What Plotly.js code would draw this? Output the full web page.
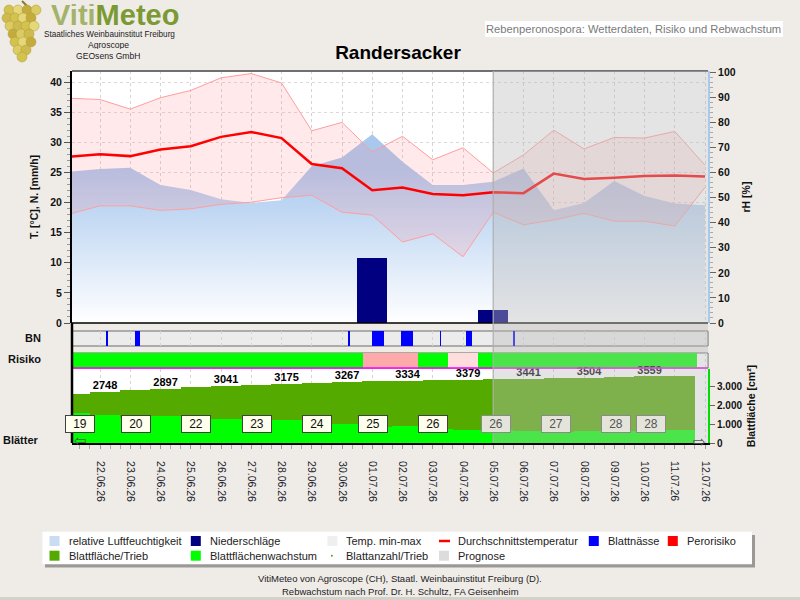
<!DOCTYPE html>
<html><head><meta charset="utf-8">
<script src="https://cdn.plot.ly/plotly-3.0.1.min.js"></script>
<style>html,body{margin:0;padding:0;background:#efece8;}#chart{width:800px;height:600px;}</style>
</head><body><div id="chart"></div>
<script>
// ---------------- DATA ----------------
const days = ['2026-06-21','2026-06-22','2026-06-23','2026-06-24','2026-06-25','2026-06-26','2026-06-27','2026-06-28','2026-06-29','2026-06-30','2026-07-01','2026-07-02','2026-07-03','2026-07-04','2026-07-05','2026-07-06','2026-07-07','2026-07-08','2026-07-09','2026-07-10','2026-07-11','2026-07-12'];
const tempMean = [27.6,28.0,27.7,28.8,29.35,30.9,31.7,30.7,26.4,25.7,22.05,22.5,21.4,21.2,21.7,21.55,24.8,23.9,24.1,24.4,24.5,24.3];
const tempMax  = [37.3,37.1,35.5,37.4,38.6,40.7,41.4,39.85,31.9,33.3,28.4,31.0,27.1,29.1,24.9,27.9,32.0,28.9,30.8,30.7,31.8,26.2];
const tempMin  = [18.1,19.45,19.45,18.7,18.95,19.7,20.05,20.8,21.2,18.4,17.9,13.45,14.8,11.0,18.4,16.3,17.1,18.2,16.9,16.9,16.1,22.5];
const relHum   = [60.3,61.4,61.9,55.0,53.0,49.4,47.9,49.0,62.5,66.0,75.3,64.3,55.0,55.0,56.3,61.6,45.0,47.9,56.6,50.6,47.7,47.0];
const precipDays = ['2026-07-01','2026-07-05'];
const precipMm   = [10.8, 2.2];
const bnStart = ['2026-06-22 04:30','2026-06-23 03:45','2026-06-30 04:30','2026-07-01 00:00','2026-07-01 22:45','2026-07-03 05:45','2026-07-04 02:30','2026-07-05 16:00'];
const bnHours = [1.6,4,1.6,9.5,9.3,1,4.8,1.2];
const riskStart = ['2026-06-21 00:00','2026-06-30 17:00','2026-07-02 12:00','2026-07-03 12:00','2026-07-04 12:00'];
const riskEnd   = ['2026-06-30 17:00','2026-07-02 12:00','2026-07-03 12:00','2026-07-04 12:00','2026-07-11 17:30'];
const riskLevel = [0,2,0,1,0];
const leafDays = ['2026-06-21','2026-06-22','2026-06-23','2026-06-24','2026-06-25','2026-06-26','2026-06-27','2026-06-28','2026-06-29','2026-06-30','2026-07-01','2026-07-02','2026-07-03','2026-07-04','2026-07-05','2026-07-06','2026-07-07','2026-07-08','2026-07-09','2026-07-10','2026-07-11'];
const leafArea = [2620,2748,2825,2897,2970,3041,3110,3175,3225,3267,3302,3334,3358,3379,3412,3441,3473,3504,3533,3559,3585];
const leafAreaLabels = ['','2748','','2897','','3041','','3175','','3267','','3334','','3379','','3441','','3504','','3559',''];
const leafGrowth = [1589,1498,1354,1445,1354,1284,1284,1231,1001,1001,872,910,733,696,696,642,605,642,642,642,696];
const leafCountTimes = ['2026-06-21 08:00','2026-06-23 04:30','2026-06-25 04:00','2026-06-27 04:30','2026-06-29 04:00','2026-07-01 00:30','2026-07-03 00:00','2026-07-05 02:00','2026-07-07 01:30','2026-07-09 01:00','2026-07-10 05:00'];
const leafCounts = [19,20,22,23,24,25,26,26,27,28,28];
const prognoseStart = '2026-07-05 00:00';
const legendLabels = ['relative Luftfeuchtigkeit','Niederschläge','Temp. min-max','Durchschnittstemperatur','Blattnässe','Perorisiko','Blattfläche/Trieb','Blattflächenwachstum','Blattanzahl/Trieb','Prognose'];
const legendColors = ['#c9dcf2','#000080','#efefef','#ff0000','#0000ff','#ff0000','#55aa00','#00ff00','#55aa00','#dcdcdc'];
const legendSymbols = ['square','square','square','line','square','square','square','square','dot','square'];

// ---------------- LAYOUT HELPERS ----------------
const W=800,H=600,ML=72,MR=92,MT=71,MB=157;
const PW=W-ML-MR, PH=H-MT-MB;
const px = p => (p-ML)/PW;
const py = p => (H-MB-p)/PH;
const HOUR=3600000, DAY=24*HOUR;
const toMs = s => Date.parse(s.replace(' ','T')+':00Z');
const xRange = ['2026-06-21 01:47','2026-07-12 02:23'];
const riskColors = ['#00ff00','#ffdddd','#ffaaaa'];
const FONT = 'Liberation Sans, Arial, sans-serif';
const BAR_OFFSET_H = -8;

const traces = [
  {type:'scatter', mode:'lines', x:days, y:relHum, yaxis:'y', line:{width:0,color:'rgba(0,0,0,0)'},
   fill:'tozeroy', fillgradient:{type:'vertical', colorscale:[[0,'#ffffff'],[1,'#a8c8ee']], start:0, stop:62}, hoverinfo:'skip'},
  {type:'bar', x:precipDays, y:precipMm, yaxis:'y2', width:DAY, marker:{color:'#000080', line:{width:0}}, hoverinfo:'skip'},
  {type:'scatter', mode:'lines', x:days, y:tempMin, yaxis:'y2', line:{color:'#ff9e9e', width:1}, hoverinfo:'skip'},
  {type:'scatter', mode:'lines', x:days, y:tempMax, yaxis:'y2', fill:'tonexty', fillcolor:'rgba(255,140,150,0.19)', line:{color:'#ff9e9e', width:1}, hoverinfo:'skip'},
  {type:'scatter', mode:'lines', x:days, y:tempMean, yaxis:'y2', line:{color:'#ff0000', width:2.5}, hoverinfo:'skip'},
  {type:'bar', x:bnStart, y:bnStart.map(()=>1), base:0, width:bnHours.map(h=>h*HOUR), offset:0, yaxis:'y3', marker:{color:'#0000ff', line:{width:0}}, hoverinfo:'skip'},
  {type:'bar', x:riskStart, y:riskStart.map(()=>1), base:0, width:riskStart.map((s,i)=>toMs(riskEnd[i])-toMs(s)), offset:0, yaxis:'y4', marker:{color:riskLevel.map(l=>riskColors[l]), line:{width:0}}, hoverinfo:'skip'},
  {type:'bar', x:leafDays, y:leafArea, width:DAY, offset:BAR_OFFSET_H*HOUR, yaxis:'y5', marker:{color:'#55aa00', line:{width:0}}, hoverinfo:'skip'},
  {type:'bar', x:leafDays, y:leafGrowth, width:DAY, offset:BAR_OFFSET_H*HOUR, yaxis:'y5', marker:{color:'#00ff00', line:{width:0}}, hoverinfo:'skip'},
  {type:'scatter', mode:'text', x:leafDays.map(d=>d+' 0'+(BAR_OFFSET_H+12)+':00'), y:leafArea, text:leafAreaLabels, textposition:'top center', yaxis:'y5', cliponaxis:false,
   textfont:{family:FONT, size:11, color:'#000', weight:'bold'}, hoverinfo:'skip'}
];

const shapes = [
  {type:'rect', xref:'paper', yref:'y3 domain', x0:0, x1:1, y0:0, y1:1, fillcolor:'#ececec', line:{color:'#6a6a6a', width:1}, layer:'below'},
  {type:'rect', xref:'paper', yref:'y4 domain', x0:0, x1:1, y0:0, y1:1, fillcolor:'#ffffff', line:{color:'#666', width:1}, layer:'below'},
  {type:'line', xref:'paper', yref:'y4 domain', x0:0, x1:1, y0:0, y1:0, line:{color:'#ff00ff', width:1.5}, layer:'above'},
  {type:'line', xref:'paper', yref:'y domain', x0:0, x1:1, y0:1, y1:1, line:{color:'#707070', width:2}, layer:'above'},
  {type:'line', xref:'paper', yref:'y domain', x0:0, x1:1, y0:0, y1:0, line:{color:'#000', width:1.5}, layer:'above'},
  {type:'line', xref:'paper', yref:'paper', x0:0, x1:0, y0:0, y1:py(323), line:{color:'#000', width:2.5}, layer:'above'},
  {type:'rect', xref:'x', yref:'paper', x0:prognoseStart, x1:xRange[1], y0:0, y1:1, fillcolor:'rgba(187,187,187,0.4)', line:{width:0}, layer:'above'},
  {type:'line', xref:'x', yref:'paper', x0:prognoseStart, x1:prognoseStart, y0:0, y1:1, line:{color:'rgba(175,175,175,0.8)', width:1.5}, layer:'above'},
  // page decorations
  {type:'rect', xref:'paper', yref:'paper', x0:px(0), x1:px(800), y0:py(597), y1:py(600), fillcolor:'#d4d0ca', line:{width:0}},
  {type:'rect', xref:'paper', yref:'paper', x0:px(45), x1:px(755), y0:py(535), y1:py(567.5), fillcolor:'rgba(0,0,0,0.35)', line:{width:0}},
  {type:'rect', xref:'paper', yref:'paper', x0:px(42.4), x1:px(752), y0:py(531.7), y1:py(564.3), fillcolor:'#ffffff', line:{width:0}},
  {type:'rect', xref:'paper', yref:'paper', x0:px(485), x1:px(783), y0:py(21), y1:py(37), fillcolor:'#ffffff', line:{width:0}}
];

const annotations = [];
// leaf count boxes
leafCountTimes.forEach((t,i)=>{
  const prog = toMs(t) >= toMs(prognoseStart);
  annotations.push({xref:'x', yref:'y5 domain', x:t, y:0.135, text:String(leafCounts[i]), showarrow:false,
    font:{family:FONT, size:12, color: prog?'#555':'#111'}, bgcolor: prog?'#e4e4da':'#ffffee',
    bordercolor: prog?'#8a8a8a':'#404040', borderwidth:1, borderpad:1, width:26, height:14});
});
const pageText = (x,y,text,opts={}) => annotations.push(Object.assign({xref:'paper', yref:'paper', x:px(x), y:py(y), text, showarrow:false,
  xanchor:'center', yanchor:'middle', font:{family:FONT, size:11, color:'#222'}}, opts));
// strip labels
pageText(43,338,'BN',{xanchor:'right', font:{family:FONT,size:11,color:'#111',weight:'bold'}});
pageText(43,359,'Risiko',{xanchor:'right', font:{family:FONT,size:11,color:'#111',weight:'bold'}});
pageText(41,440,'Blätter',{xanchor:'right', font:{family:FONT,size:11,color:'#111',weight:'bold'}});
// scroll arrows
pageText(80,441,'⇦',{font:{family:'DejaVu Sans',size:15,color:'#555'}});
pageText(699,442,'⇨',{font:{family:'DejaVu Sans',size:15,color:'#555'}});
// header
pageText(633,29,'Rebenperonospora: Wetterdaten, Risiko und Rebwachstum',{font:{family:FONT,size:11.2,color:'#7a7a7a'}});
pageText(49,15,'<span style="color:#a3b36a">Viti</span><span style="color:#7b9a32">Meteo</span>',{xanchor:'left', height:22, font:{family:FONT,size:29,weight:'bold',color:'#7b9a32'}});
pageText(109,34,'Staatliches Weinbauinstitut Freiburg',{height:9, font:{family:FONT,size:8.2,color:'#222'}});
pageText(108,44.5,'Agroscope',{height:9, font:{family:FONT,size:8.6,color:'#222'}});
pageText(108,55,'GEOsens GmbH',{height:9, font:{family:FONT,size:8.6,color:'#222'}});
// footer
pageText(400,578,'VitiMeteo von Agroscope (CH), Staatl. Weinbauinstitut Freiburg (D).',{font:{family:FONT,size:9.5,color:'#222'}});
pageText(400,591,'Rebwachstum nach Prof. Dr. H. Schultz, FA Geisenheim',{font:{family:FONT,size:9.5,color:'#222'}});

// legend (drawn manually)
const legTextX = [66.5,207.8,344.4,456,605.8,684.8];
const legRowY = [541,555.7];
legendLabels.forEach((lab,i)=>{
  const row = i<6?0:1, col = i<6?i:i-6;
  const tx = legTextX[col], cy = legRowY[row], ix = tx-17;
  pageText(tx,cy,lab,{xanchor:'left', font:{family:FONT,size:11,color:'#222'}});
  if(legendSymbols[i]==='square'){
    shapes.push({type:'rect', xref:'paper', yref:'paper', x0:px(ix), x1:px(ix+10), y0:py(cy+5), y1:py(cy-5), fillcolor:legendColors[i], line:{width:0}});
  } else if(legendSymbols[i]==='line'){
    shapes.push({type:'line', xref:'paper', yref:'paper', x0:px(ix), x1:px(ix+11), y0:py(cy), y1:py(cy), line:{color:legendColors[i], width:2.5}});
  } else {
    shapes.push({type:'circle', xref:'paper', yref:'paper', x0:px(ix+3.5), x1:px(ix+5.5), y0:py(cy+1), y1:py(cy-1), fillcolor:legendColors[i], line:{width:0}});
  }
});
// grape logo (decoration)
const grapeRows = [[10,[9,18,27,36]],[18,[7,15,23,31]],[26,[10,18,26,34]],[34,[13,21,29]],[42,[15,23,31]],[50,[18,26]],[57,[22]]];
const grapeCols = ['#d4c24e','#e6d878','#c3ab3c','#dccb62','#cdbb50'];
let gi=0;
shapes.push({type:'line', xref:'paper', yref:'paper', x0:px(22), x1:px(28), y0:py(1), y1:py(7), line:{color:'#8a7a30', width:2}});
grapeRows.forEach(([cy,xs])=>xs.forEach(cx=>{
  shapes.push({type:'circle', xref:'paper', yref:'paper', x0:px(cx-5), x1:px(cx+5), y0:py(cy+5), y1:py(cy-5), fillcolor:grapeCols[gi++%5], line:{color:'#b09a38', width:0.5}});
}));

const tickBold = {family:FONT, size:10.5, color:'#111', weight:'bold'};
const layout = {
  width:W, height:H, margin:{l:ML, r:MR, t:MT, b:MB, pad:0},
  paper_bgcolor:'#efece8', plot_bgcolor:'#ffffff',
  font:{family:FONT, size:11, color:'#222'},
  separators:',.', showlegend:false, barmode:'overlay', bargap:0,
  title:{text:'Randersacker', x:0.4975, xanchor:'center', xref:'container', yref:'container', y:1-52/600, yanchor:'middle',
    font:{family:FONT, size:19, color:'#000', weight:'bold'}},
  xaxis:{type:'date', range:xRange, anchor:'y5', tickformat:'%d.%m.%y', tick0:'2026-06-22', dtick:DAY, tickangle:90,
    ticks:'outside', ticklen:4, tickcolor:'#999', ticklabelstandoff:10, tickfont:{family:FONT, size:10.5, color:'#1c1c2c'},
    showline:true, linecolor:'#000', linewidth:2, showgrid:true, gridcolor:'#d4d4d4', griddash:'dot', zeroline:false,
    minor:{dtick:8*HOUR, ticks:'outside', ticklen:4, tickcolor:'#aaa', showgrid:false}},
  yaxis:{domain:[py(323),1], range:[0,100.5], side:'right', anchor:'x', dtick:10, ticks:'outside', ticklen:6, tickcolor:'#666',
    showline:true, linecolor:'#a8c8ec', linewidth:2, showgrid:false, zeroline:false, tickfont:tickBold,
    minor:{dtick:2, ticks:'outside', ticklen:3, tickcolor:'#aaa'},
    title:{text:'rH [%]', font:{family:FONT, size:10.5, color:'#111', weight:'bold'}, standoff:8}},
  yaxis2:{overlaying:'y', side:'left', anchor:'x', range:[0,41.83], dtick:5, ticks:'outside', ticklen:6, tickcolor:'#555',
    showline:true, linecolor:'#000', linewidth:2, showgrid:true, gridcolor:'#dadada', griddash:'dot', zeroline:false, tickfont:tickBold,
    minor:{dtick:1, ticks:'outside', ticklen:3, tickcolor:'#999'},
    title:{text:'T. [°C], N. [mm/h]', font:{family:FONT, size:10.5, color:'#111', weight:'bold'}, standoff:10}},
  yaxis3:{domain:[py(346),py(331)], range:[0,1], visible:false, fixedrange:true},
  yaxis4:{domain:[py(368),py(353)], range:[0,1], visible:false, fixedrange:true},
  yaxis5:{domain:[0,py(369)], range:[0,3959], side:'right', anchor:'x', tickvals:[0,1000,2000,3000], tickformat:',d',
    ticks:'outside', ticklen:5, tickcolor:'#666', showline:true, linecolor:'#00dd00', linewidth:2, showgrid:false, zeroline:false,
    tickfont:{family:FONT, size:10, color:'#111', weight:'bold'},
    title:{text:'Blattfläche [cm²]', font:{family:FONT, size:10.5, color:'#111', weight:'bold'}, standoff:6}},
  shapes, annotations
};
Plotly.newPlot('chart', traces, layout, {staticPlot:true, displayModeBar:false});
</script></body></html>
